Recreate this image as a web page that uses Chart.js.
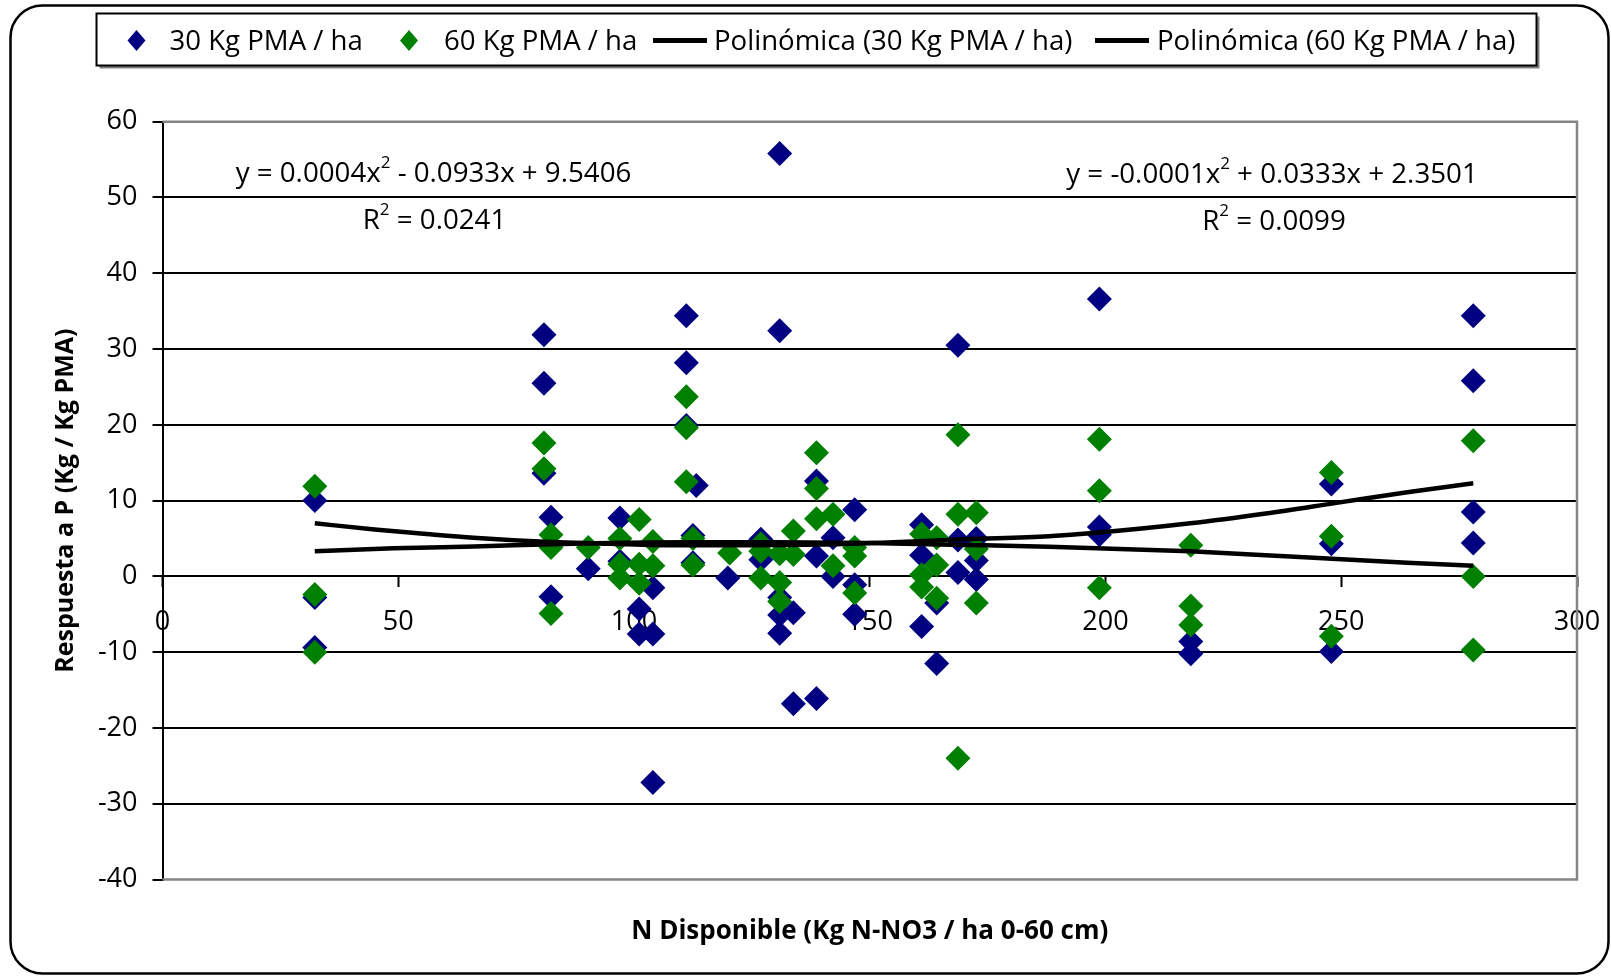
<!DOCTYPE html>
<html><head><meta charset="utf-8">
<script src="https://cdn.jsdelivr.net/npm/chart.js@4.4.1/dist/chart.umd.min.js"></script>
<style>html,body{margin:0;padding:0;background:#fff;}canvas{display:block;}</style>
</head><body>
<canvas id="c" width="1611" height="977"></canvas>
<script>
// ---- data ----
const seriesNames = ['30 Kg PMA / ha', '60 Kg PMA / ha', 'Polinómica (30 Kg PMA / ha)', 'Polinómica (60 Kg PMA / ha)'];
const xTitle = 'N Disponible (Kg N-NO3 / ha 0-60 cm)';
const yTitle = 'Respuesta a P (Kg / Kg PMA)';
const xTicks = [0, 50, 100, 150, 200, 250, 300];
const yTicks = [-40, -30, -20, -10, 0, 10, 20, 30, 40, 50, 60];

const nDisp30 = [32.3,32.3,32.3, 80.9,80.9,80.9, 82.4,82.4, 90.3, 97.0,97.0, 101.1,101.1, 104.0,104.0,104.0, 111.1,111.1,111.1, 112.5,112.5, 113.2, 119.9, 126.9,126.9, 130.9,130.9,130.9,130.9,130.9, 133.8,133.8, 138.7,138.7,138.7, 142.2,142.2, 146.8,146.8,146.8, 161.0,161.0,161.0, 164.2,164.2, 168.7,168.7,168.7, 172.6,172.6,172.6, 198.7,198.7,198.7, 218.1,218.1, 247.9,247.9,247.9, 278.0,278.0,278.0,278.0];
const resp30 = [10.0,-2.8,-9.4, 31.9,25.5,13.6, 7.8,-2.7, 1.0, 7.7,2.0, -4.3,-7.6, -1.5,-7.6,-27.2, 34.4,28.2,19.9, 5.4,1.8, 12.0, -0.2, 4.9,2.2, 55.8,32.4,-2.8,-5.1,-7.5, -4.8,-16.8, 12.6,2.7,-16.1, 5.1,0.0, 8.8,-1.1,-5.0, 6.8,2.8,-6.6, -3.5,-11.5, 30.5,4.8,0.5, 5.0,2.1,-0.4, 36.6,6.5,5.5, -8.6,-10.2, 12.2,4.3,-9.9, 34.4,25.8,8.5,4.4];

const nDisp60 = [32.3,32.3,32.3, 80.9,80.9, 82.4,82.4,82.4, 90.3, 97.0,97.0,97.0, 101.1,101.1,101.1, 104.0,104.0, 111.1,111.1,111.1, 112.5,112.5, 120.3, 126.9,126.9,126.9, 130.9,130.9,130.9, 133.8,133.8, 138.7,138.7,138.7, 142.2,142.2, 146.8,146.8,146.8, 161.0,161.0,161.0, 164.2,164.2,164.2, 168.7,168.7,168.7, 172.6,172.6,172.6, 198.7,198.7,198.7, 218.1,218.1,218.1, 247.9,247.9,247.9, 278.0,278.0,278.0];
const resp60 = [11.9,-2.4,-10.0, 17.6,14.2, 5.5,3.8,-4.9, 3.8, 5.0,1.6,-0.2, 7.5,1.6,-0.9, 4.6,1.4, 23.7,19.6,12.5, 5.0,1.5, 3.1, 4.3,3.3,-0.2, 3.0,-0.8,-3.3, 6.0,2.9, 16.3,11.6,7.6, 8.2,1.4, 3.8,2.7,-2.2, 5.6,0.2,-1.4, 5.1,1.5,-2.9, 18.7,8.2,-24.0, 8.4,3.6,-3.5, 18.1,11.3,-1.5, 4.1,-3.9,-6.4, 13.7,5.3,-7.9, 17.9,0.0,-9.7];

const trendX30 = [32.3, 45, 56, 66, 80, 95, 110, 125, 140, 155, 170, 188, 198, 218, 234, 249, 264, 278];
const trendY30 = [7.0, 6.2, 5.6, 5.1, 4.6, 4.3, 4.1, 4.1, 4.2, 4.5, 4.9, 5.3, 5.75, 7.0, 8.3, 9.7, 11.1, 12.3];
const trendX60 = [32.3, 49, 66, 87, 110, 130, 150, 170, 188, 203, 218, 234, 249, 264, 278];
const trendY60 = [3.3, 3.7, 3.95, 4.3, 4.5, 4.5, 4.4, 4.15, 3.9, 3.6, 3.3, 2.8, 2.3, 1.8, 1.4];

const eq30 = [['y = 0.0004x', false], ['2', true], [' - 0.0933x + 9.5406', false]];
const r30 = [['R', false], ['2', true], [' = 0.0241', false]];
const eq60 = [['y = -0.0001x', false], ['2', true], [' + 0.0333x + 2.3501', false]];
const r60 = [['R', false], ['2', true], [' = 0.0099', false]];

// ---- styles ----
const FONT = "'Open Sans', sans-serif";
const BLUE = '#000080', GREEN = '#008000';
const pts = (xs, ys) => xs.map((x, i) => ({x: x, y: ys[i]}));

function richWidth(c, parts, size, supSize) {
  let w = 0;
  for (const [t, sup] of parts) { c.font = (sup ? supSize : size) + 'px ' + FONT; w += c.measureText(t).width; }
  return w;
}
function drawRich(c, parts, cx, baseY, size) {
  const supSize = Math.round(size * 0.62);
  let x = cx - richWidth(c, parts, size, supSize) / 2;
  c.textAlign = 'left'; c.textBaseline = 'alphabetic'; c.fillStyle = '#000';
  for (const [t, sup] of parts) {
    c.font = (sup ? supSize : size) + 'px ' + FONT;
    c.fillText(t, x, sup ? baseY - size * 0.5 : baseY);
    x += c.measureText(t).width;
  }
}

const framePlugin = {
  id: 'frame',
  beforeDraw(chart) {
    const c = chart.ctx; c.save();
    c.fillStyle = '#fff'; c.fillRect(0, 0, chart.width, chart.height);
    c.strokeStyle = '#000'; c.lineWidth = 2.5;
    c.beginPath(); c.roundRect(10.5, 5.5, 1598, 968, 32); c.stroke();
    c.restore();
  },
  beforeDatasetsDraw(chart) {
    const a = chart.chartArea, c = chart.ctx; c.save();
    c.strokeStyle = '#858585'; c.lineWidth = 2.5;
    c.beginPath(); c.moveTo(a.left, a.top); c.lineTo(a.right, a.top); c.lineTo(a.right, a.bottom); c.lineTo(a.left, a.bottom); c.stroke();
    c.restore();
  },
  afterDatasetsDraw(chart) {
    const c = chart.ctx; c.save();
    drawRich(c, eq30, 433.5, 182, 27.7);
    drawRich(c, r30, 434.5, 229, 27.7);
    drawRich(c, eq60, 1272, 183, 27.7);
    drawRich(c, r60, 1274, 229.5, 27.7);
    c.restore();
  },
  afterDraw(chart) {
    const c = chart.ctx; c.save();
    const bx = 96.5, by = 13.5, bw = 1440, bh = 52;
    c.fillStyle = '#808080'; c.fillRect(bx + 3, by + 3, bw, bh);
    c.fillStyle = '#fff'; c.fillRect(bx, by, bw, bh);
    c.strokeStyle = '#000'; c.lineWidth = 2; c.strokeRect(bx, by, bw, bh);
    const cy = 40.5, base = 50;
    const diamond = (x, col) => { c.fillStyle = col; c.beginPath(); c.moveTo(x, cy - 10.5); c.lineTo(x + 9, cy); c.lineTo(x, cy + 10.5); c.lineTo(x - 9, cy); c.closePath(); c.fill(); };
    const seg = (x1, x2) => { c.strokeStyle = '#000'; c.lineWidth = 5; c.beginPath(); c.moveTo(x1, cy); c.lineTo(x2, cy); c.stroke(); };
    diamond(136.5, BLUE); diamond(409, GREEN); seg(653, 707); seg(1095, 1149);
    c.fillStyle = '#000'; c.font = '27.6px ' + FONT; c.textAlign = 'left'; c.textBaseline = 'alphabetic';
    c.fillText(seriesNames[0], 169.5, base);
    c.fillText(seriesNames[1], 444, base);
    c.fillText(seriesNames[2], 714, base);
    c.fillText(seriesNames[3], 1157, base);
    c.restore();
  }
};

new Chart(document.getElementById('c'), {
  type: 'scatter',
  data: {
    datasets: [
      {label: seriesNames[0], data: pts(nDisp30, resp30), backgroundColor: BLUE, borderColor: BLUE, borderWidth: 0,
       pointStyle: 'rectRot', pointRadius: 12.5, pointHoverRadius: 12.5, order: 4},
      {label: seriesNames[1], data: pts(nDisp60, resp60), backgroundColor: GREEN, borderColor: GREEN, borderWidth: 0,
       pointStyle: 'rectRot', pointRadius: 12.5, pointHoverRadius: 12.5, order: 3},
      {label: seriesNames[2], data: pts(trendX30, trendY30), showLine: true, borderColor: '#000', borderWidth: 4.5,
       pointRadius: 0, cubicInterpolationMode: 'monotone', fill: false, order: 2},
      {label: seriesNames[3], data: pts(trendX60, trendY60), showLine: true, borderColor: '#000', borderWidth: 4.5,
       pointRadius: 0, cubicInterpolationMode: 'monotone', fill: false, order: 1}
    ]
  },
  options: {
    responsive: false, animation: false, devicePixelRatio: 1,
    layout: {padding: {top: 121.7, right: 34, bottom: 0, left: 0}},
    plugins: {
      legend: {display: false}, tooltip: {enabled: false},
      title: {display: true, text: xTitle, position: 'bottom', fullSize: false, color: '#000',
              font: {family: FONT, size: 26, weight: 'bold', lineHeight: 1.2}, padding: {top: 36.9, bottom: 29.4}}
    },
    scales: {
      x: {
        type: 'linear', position: {y: 0}, min: 0, max: 300,
        afterBuildTicks: s => { s.ticks = xTicks.map(v => ({value: v})); },
        afterFit: s => { s.paddingLeft = 0; s.paddingRight = 0; },
        ticks: {color: '#000', font: {family: FONT, size: 27}, padding: 20, maxRotation: 0, autoSkip: false},
        grid: {display: true, drawOnChartArea: false, drawTicks: true, tickLength: 10, tickColor: '#000', tickWidth: 2},
        border: {display: true, color: '#000', width: 2}
      },
      y: {
        type: 'linear', position: 'left', min: -40, max: 60,
        afterBuildTicks: s => { s.ticks = yTicks.map(v => ({value: v})); },
        afterFit: s => { s.width = 162.5; },
        ticks: {color: '#000', font: {family: FONT, size: 27}, padding: 15},
        grid: {color: ctx => (ctx.tick && (ctx.tick.value === 60 || ctx.tick.value === -40)) ? 'rgba(0,0,0,0)' : '#000',
               lineWidth: 2, tickLength: 10, tickColor: '#000', tickWidth: 2},
        border: {color: '#000', width: 2},
        title: {display: true, text: yTitle, color: '#000', font: {family: FONT, size: 25, weight: 'bold'}, padding: {top: 51, bottom: 0}}
      }
    }
  },
  plugins: [framePlugin]
});
</script>
</body></html>
